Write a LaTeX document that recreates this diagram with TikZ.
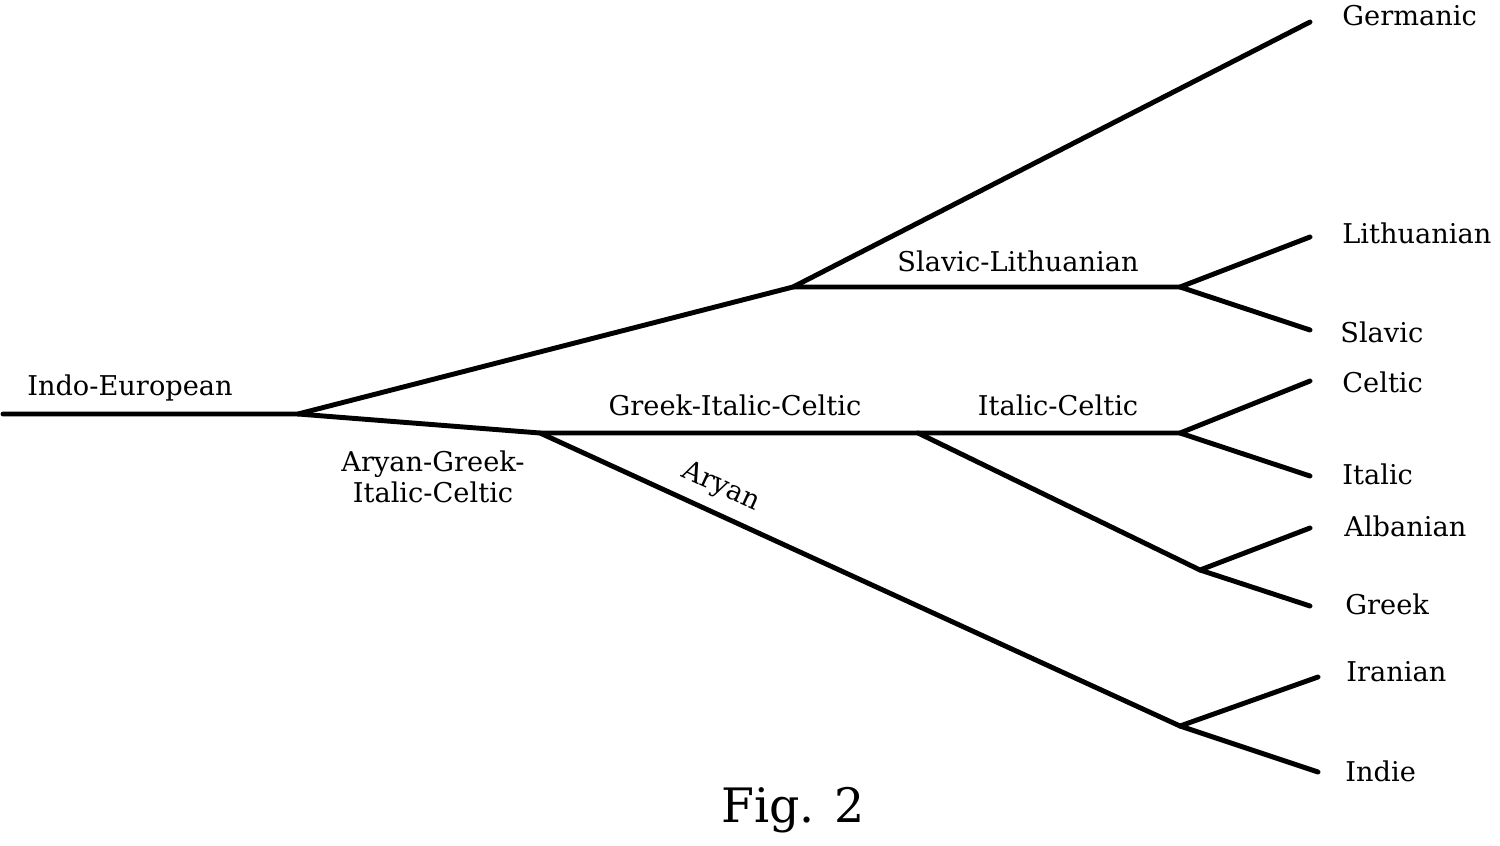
\documentclass[tikz,border=0pt]{standalone}
\usepackage{fontspec}
\setmainfont{DejaVu Serif}
\usetikzlibrary{positioning}

\begin{document}
\begin{tikzpicture}[x=0.02cm,y=-0.02cm,
    branch/.style={line width=2.8pt,line cap=round,line join=round},
    lang/.style={anchor=west,font=\fontsize{15.5}{18}\selectfont,inner sep=0pt},
    group/.style={font=\fontsize{15.5}{18}\selectfont,inner sep=0pt}]
    \useasboundingbox (0,0) rectangle (1500,845);

    % Junction points
    \coordinate (start) at (3,414);
    \coordinate (ie) at (298,414);
    \coordinate (sl) at (793,287);
    \coordinate (slj) at (1180,287);
    \coordinate (agic) at (540,433);
    \coordinate (gic) at (918,433);
    \coordinate (ic) at (1180,433);
    \coordinate (ag) at (1200,570);
    \coordinate (ar) at (1180,726);

    % Leaf ends
    \coordinate (germ) at (1310,22);
    \coordinate (lith) at (1310,237);
    \coordinate (slav) at (1310,330);
    \coordinate (celt) at (1310,381);
    \coordinate (ital) at (1310,476);
    \coordinate (alb) at (1310,528);
    \coordinate (gre) at (1310,606);
    \coordinate (iran) at (1318,677);
    \coordinate (ind) at (1318,772);

    % Branches
    \draw[branch] (start) -- (ie) -- (sl) -- (germ);
    \draw[branch] (sl) -- (slj) -- (lith);
    \draw[branch] (slj) -- (slav);
    \draw[branch] (ie) -- (agic) -- (gic) -- (ic) -- (celt);
    \draw[branch] (ic) -- (ital);
    \draw[branch] (gic) -- (ag) -- (alb);
    \draw[branch] (ag) -- (gre);
    \draw[branch] (agic) -- (ar) -- (iran);
    \draw[branch] (ar) -- (ind);

    % Group labels
    \node[group] (ielab) at (130,388) {Indo-European};
    \node[group] (sllab) at (1018,261) {Slavic-Lithuanian};
    \node[group] (giclab) at (735,405) {Greek-Italic-Celtic};
    \node[group] (iclab) at (1058,405) {Italic-Celtic};
    \node[group,align=center] (agiclab) at (433,477) {Aryan-Greek-\\Italic-Celtic};
    \node[group,rotate=-24.6] (arlab) at (721,487) {Aryan};

    % Leaf labels
    \node[lang] (germlab) at (1342,16) {Germanic};
    \node[lang] (lithlab) at (1342,233) {Lithuanian};
    \node[lang] (slavlab) at (1340,332) {Slavic};
    \node[lang] (celtlab) at (1342,382) {Celtic};
    \node[lang] (itallab) at (1342,474) {Italic};
    \node[lang] (alblab) at (1344,526) {Albanian};
    \node[lang] (grelab) at (1345,604) {Greek};
    \node[lang] (iranlab) at (1346,672) {Iranian};
    \node[lang] (indlab) at (1345,771) {Indie};

    \node[font=\fontsize{27}{32}\selectfont] (fig) at (793,810) {Fig. 2};
\end{tikzpicture}
\end{document}
